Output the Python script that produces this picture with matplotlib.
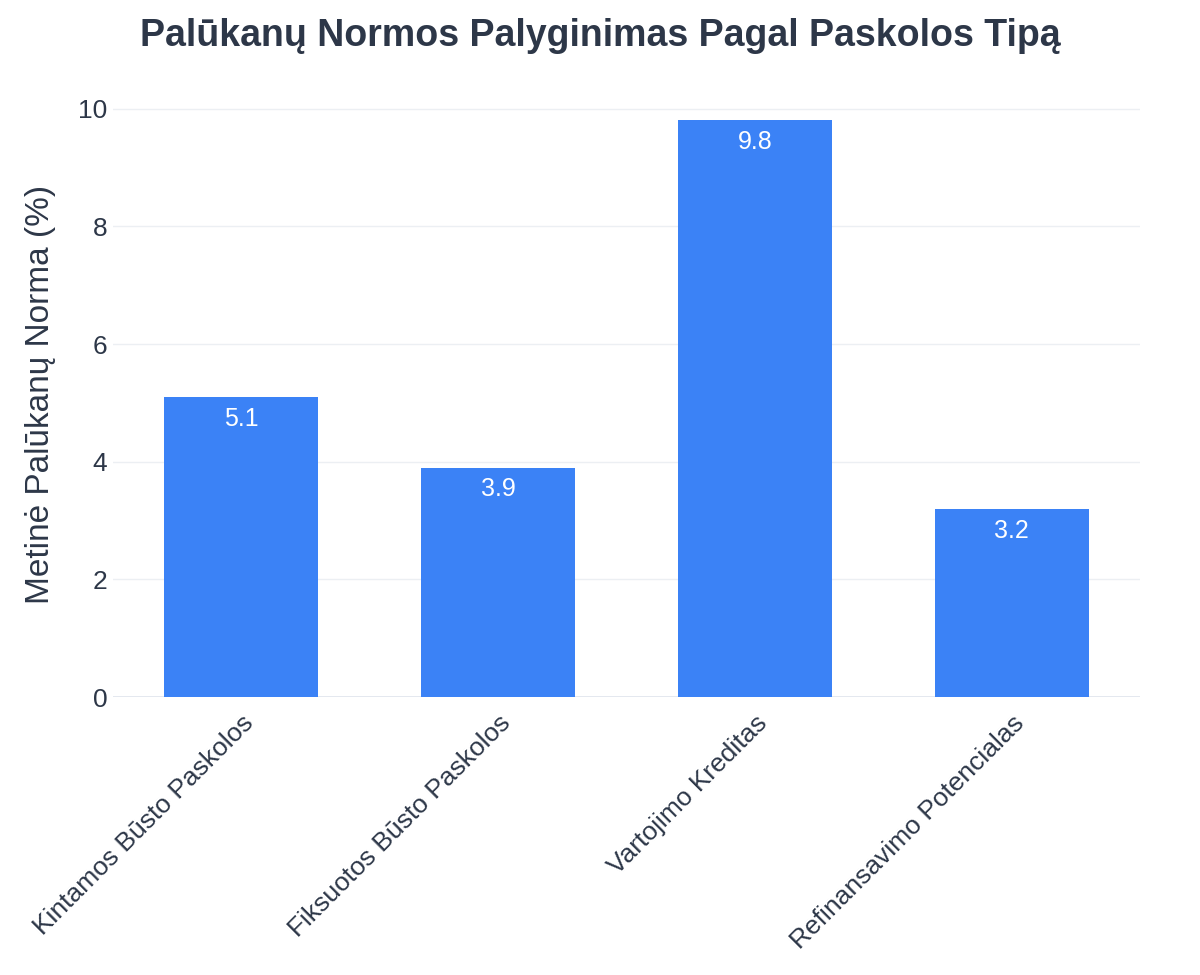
import numpy as np
import matplotlib
matplotlib.use("Agg")
import matplotlib.pyplot as plt

plt.rcParams['font.family'] = ['Liberation Sans', 'DejaVu Sans']

# Duomenys
kategorijos = ["Kintamos Būsto Paskolos", "Fiksuotos Būsto Paskolos",
               "Vartojimo Kreditas", "Refinansavimo Potencialas"]
normos = [5.1, 3.9, 9.8, 3.2]
y_ticks = [0, 2, 4, 6, 8, 10]

text_color = '#2d3748'
bar_color = '#3b82f6'

fig = plt.figure(figsize=(12, 9.75), dpi=100)
ax = fig.add_axes([0.094, 0.285, 0.856, 0.6216])

x = np.arange(len(kategorijos))
bars = ax.bar(x, normos, width=0.6, color=bar_color, zorder=3)

# Reiksmes juostu viduje, virsuje
for xi, v in zip(x, normos):
    ax.annotate(f"{v:.1f}", xy=(xi, v), xytext=(0, -7), textcoords='offset points',
                ha='center', va='top', color='white', fontsize=18, zorder=4)

ax.set_xlim(-0.5, len(kategorijos) - 0.5)
ax.set_ylim(0, 10.3)
ax.set_yticks(y_ticks)
ax.set_yticklabels([str(t) for t in y_ticks])
ax.set_xticks(x)
ax.set_xticklabels(kategorijos, rotation=45, ha='right', rotation_mode='anchor')

ax.tick_params(axis='both', length=0, labelsize=19, colors=text_color)
ax.tick_params(axis='y', pad=4)
ax.tick_params(axis='x', pad=10)
ax.grid(axis='y', color='#eceff3', linewidth=1, zorder=0)
ax.axhline(0, color='#e2e6ee', linewidth=2, zorder=2)
for s in ax.spines.values():
    s.set_visible(False)

ax.set_ylabel("Metinė Palūkanų Norma (%)", fontsize=24, color=text_color, labelpad=16)
fig.suptitle("Palūkanų Normos Palyginimas Pagal Paskolos Tipą", fontsize=27,
             fontweight='bold', color=text_color, y=0.982)

fig.savefig("out.png", dpi=100, facecolor='white')
